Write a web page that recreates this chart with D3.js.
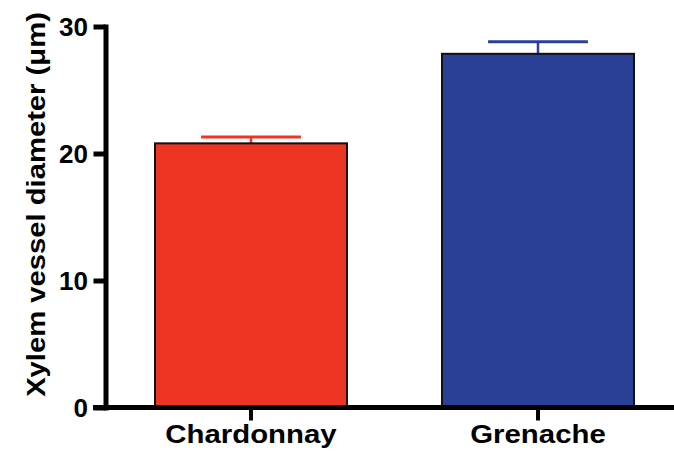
<!DOCTYPE html>
<html>
<head>
<meta charset="utf-8">
<script src="https://cdn.jsdelivr.net/npm/d3@7"></script>
<style>
  html, body { margin: 0; padding: 0; background: #fff; }
  svg { display: block; }
  text { font-family: "Liberation Sans", Arial, Helvetica, sans-serif; font-weight: bold; fill: #000; }
</style>
</head>
<body>
<svg id="chart" width="674" height="452"></svg>
<script>
// Data
const categories = ["Chardonnay", "Grenache"];
const means = [20.8, 27.85];
const errors = [0.5, 0.95];
const yTicks = [0, 10, 20, 30];
const barColors = ["#ED3524", "#2A4096"];
const yTitle = "Xylem vessel diameter (\u03bcm)";

const svg = d3.select("#chart");
const W = 674, H = 452;

const x = d3.scaleBand()
  .domain(categories)
  .range([107.5, 681.5])
  .paddingInner(0.331)
  .paddingOuter(0.1655);

const y = d3.scaleLinear().domain([0, 30]).range([407.5, 26.5]);

const data = categories.map((c, i) => ({ c, m: means[i], e: errors[i], col: barColors[i] }));

// Error bars (upper only)
const capHalf = x.bandwidth() * 0.26;
const eb = svg.append("g");
eb.selectAll("line.stem").data(data).join("line")
  .attr("x1", d => x(d.c) + x.bandwidth() / 2)
  .attr("x2", d => x(d.c) + x.bandwidth() / 2)
  .attr("y1", d => y(d.m))
  .attr("y2", d => y(d.m + d.e))
  .attr("stroke", d => d.col).attr("stroke-width", 2.5);
eb.selectAll("line.cap").data(data).join("line")
  .attr("x1", d => x(d.c) + x.bandwidth() / 2 - capHalf)
  .attr("x2", d => x(d.c) + x.bandwidth() / 2 + capHalf)
  .attr("y1", d => y(d.m + d.e))
  .attr("y2", d => y(d.m + d.e))
  .attr("stroke", d => d.col).attr("stroke-width", 3);

// Bars
svg.append("g").selectAll("rect").data(data).join("rect")
  .attr("x", d => x(d.c))
  .attr("width", x.bandwidth())
  .attr("y", d => y(d.m))
  .attr("height", d => y(0) - y(d.m))
  .attr("fill", d => d.col)
  .attr("stroke", "#111")
  .attr("stroke-width", 2);

// Y axis
const yAxis = svg.append("g")
  .attr("transform", "translate(105.5,0)")
  .call(d3.axisLeft(y).tickValues(yTicks).tickSize(12).tickSizeOuter(0).tickPadding(5.5).tickFormat(d3.format("d")));
yAxis.select(".domain").attr("stroke", "#000").attr("stroke-width", 5).attr("stroke-linecap", "square");
yAxis.selectAll(".tick line").attr("stroke", "#000").attr("stroke-width", 5);
yAxis.selectAll(".tick text").style("font-size", "26px").attr("dy", "0.36em");

// X axis
const xAxis = svg.append("g")
  .attr("transform", `translate(0,${y(0)})`)
  .call(d3.axisBottom(x).tickSize(13).tickSizeOuter(0).tickPadding(4.5));
xAxis.select(".domain").remove();
xAxis.append("line")
  .attr("x1", 93).attr("x2", W)
  .attr("stroke", "#000").attr("stroke-width", 5);
xAxis.selectAll(".tick line").attr("stroke", "#000").attr("stroke-width", 4);
xAxis.selectAll(".tick text").style("font-size", "26px").attr("transform", "scale(1.13,1)");

// Y title
svg.append("text")
  .attr("transform", "translate(45,204.5) rotate(-90) scale(1.124,1)")
  .attr("text-anchor", "middle")
  .style("font-size", "26px")
  .text(yTitle);
</script>
</body>
</html>
